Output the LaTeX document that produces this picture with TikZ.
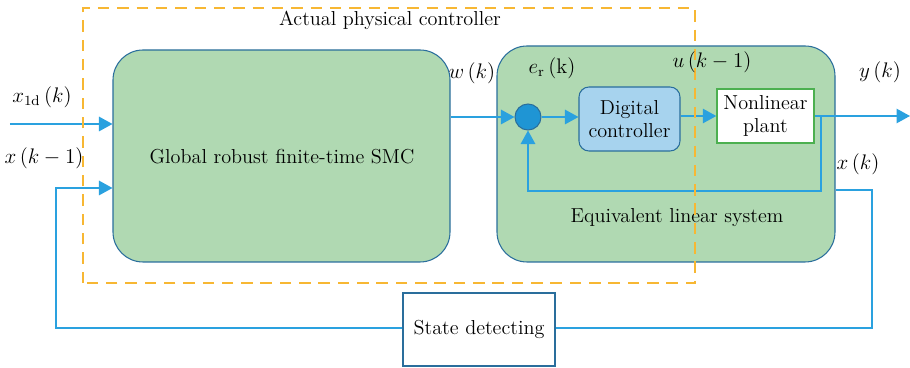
\documentclass[tikz,border=0pt]{standalone}
\usepackage{amsmath, amssymb}
\usepackage{xcolor}
\usepackage{tikz}
\usetikzlibrary{arrows.meta}
\usetikzlibrary{positioning}
\definecolor{boxgreen}{HTML}{B0D9B2}
\definecolor{boxedge}{HTML}{2A6E9C}
\definecolor{linkblue}{HTML}{2AA1DF}
\definecolor{sumblue}{HTML}{1F95D4}
\definecolor{ctrlblue}{HTML}{A7D3EE}
\definecolor{dashorange}{HTML}{F7B733}
\definecolor{plantgreen}{HTML}{4CB050}
\tikzset{
	bigbox/.style={rectangle, rounded corners=0.6cm, draw=boxedge, fill=boxgreen, line width=0.6pt},
	ctrlnode/.style={rectangle, rounded corners=0.2cm, draw=boxedge, fill=ctrlblue, line width=0.6pt, align=center, minimum width=2.02cm, minimum height=1.28cm, inner sep=1pt},
	plantnode/.style={rectangle, draw=plantgreen, fill=white, line width=0.8pt, align=center, minimum width=1.94cm, minimum height=1.08cm, inner sep=1pt},
	sumnode/.style={circle, draw=boxedge, fill=sumblue, line width=0.6pt, minimum size=5.2mm, inner sep=0pt},
	statenode/.style={rectangle, draw=boxedge, fill=white, line width=0.6pt, minimum width=3.04cm, minimum height=1.46cm},
	link/.style={draw=linkblue, line width=0.8pt},
	tip/.style={-{Triangle[length=2.7mm, width=2.9mm]}},
	mydashed/.style={draw=dashorange, line width=1.2pt, dash pattern=on 6.5pt off 4.5pt}
}

\begin{document}
\begin{tikzpicture}[font=\fontsize{11.5}{13.5}\selectfont]
	\useasboundingbox (0,0) rectangle (18.2,7.36);

	% main blocks
	\node[bigbox, minimum width=6.74cm, minimum height=4.24cm] at (5.63,4.24) (smc) {};
	\node at (5.64,4.22) (smctext) {Global robust finite-time SMC};
	\node[bigbox, minimum width=6.76cm, minimum height=4.32cm] at (13.32,4.28) (els) {};
	\node at (13.54,3.0) (elstext) {Equivalent linear system};

	\node[sumnode] at (10.56,5.02) (sum) {};
	\node[ctrlnode] at (12.59,4.98) (ctrl) {Digital\\controller};
	\node[plantnode] at (15.31,5.04) (plant) {Nonlinear\\plant};
	\node[statenode] at (9.58,0.77) (state) {State detecting};

	\coordinate (yout) at (18.2,5.04);
	\coordinate (branch) at (16.42,5.04);
	\coordinate (xin) at (0.2,4.88);

	% signals
	\draw[link, tip] (xin) -- (smc.west |- xin);
	\draw[link, tip] (smc.east |- sum) -- (sum);
	\draw[link, tip] (sum) -- (ctrl.west |- sum);
	\draw[link, tip] (ctrl.east |- plant) -- (plant);
	\draw[link, tip] (plant) -- (yout);
	\draw[link, tip] (branch) |- (10.56,3.54) -- (sum);
	\draw[link] (els.east |- 0,3.56) -| (17.44,0.8) -- (state.east |- 0,0.8);
	\draw[link, tip] (state.west |- 0,0.8) -| (1.12,3.6) -- (smc.west |- 0,3.6);

	% controller border
	\draw[mydashed] (1.66,1.7) rectangle (13.9,7.2);
	\node at (7.8,6.96) (apc) {Actual physical controller};

	% labels
	\node at (0.84,5.42) (lx1d) {$x_{\mathrm{1d}}\,(k)$};
	\node at (0.88,4.2) (lxk1) {$x\,(k-1)$};
	\node at (9.44,5.9) (lw) {$w\,(k)$};
	\node at (11.04,6.0) (ler) {$e_{\mathrm{r}}\,(\mathrm{k})$};
	\node at (14.24,6.12) (lu) {$u\,(k-1)$};
	\node at (17.6,5.92) (ly) {$y\,(k)$};
	\node at (17.16,4.08) (lx) {$x\,(k)$};
\end{tikzpicture}
\end{document}
